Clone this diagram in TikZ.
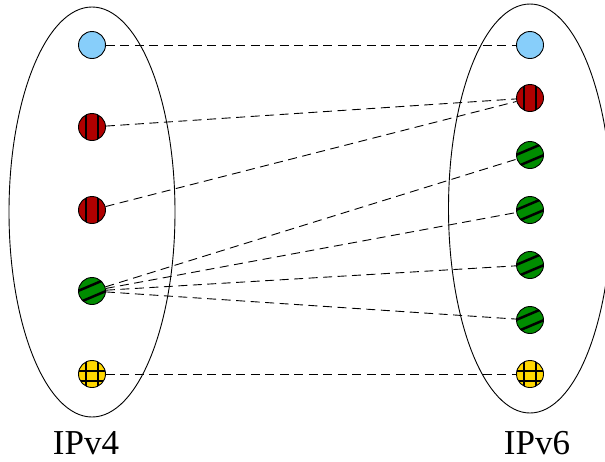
\documentclass[tikz,border=0pt]{standalone}
\usepackage{fontspec}
\setmainfont{Liberation Serif}
\definecolor{lblue}{RGB}{135,206,250}
\definecolor{dred}{RGB}{176,0,0}
\definecolor{dgreen}{RGB}{0,140,0}
\definecolor{gold}{RGB}{255,215,0}
\tikzset{
  dot/.style={circle, draw, line width=0.9pt, minimum size=27pt, inner sep=0pt},
  stripe/.style={line width=2.5pt},
  bluedot/.style={dot, fill=lblue},
  reddot/.style={dot, fill=dred, path picture={
    \draw[stripe] ([shift={(-6,-20)}]path picture bounding box.center) -- ([shift={(-6,20)}]path picture bounding box.center);
    \draw[stripe] ([shift={(6,-20)}]path picture bounding box.center) -- ([shift={(6,20)}]path picture bounding box.center);}},
  greendot/.style={dot, fill=dgreen, path picture={
    \draw[stripe] ([shift={(-20.55,2.74)}]path picture bounding box.center) -- ([shift={(16.25,-12.86)}]path picture bounding box.center);
    \draw[stripe] ([shift={(-16.25,12.86)}]path picture bounding box.center) -- ([shift={(20.55,-2.74)}]path picture bounding box.center);}},
  yellowdot/.style={dot, fill=gold, path picture={
    \draw[stripe] ([shift={(-6,-20)}]path picture bounding box.center) -- ([shift={(-6,20)}]path picture bounding box.center);
    \draw[stripe] ([shift={(6,-20)}]path picture bounding box.center) -- ([shift={(6,20)}]path picture bounding box.center);
    \draw[stripe] ([shift={(-20,-3)}]path picture bounding box.center) -- ([shift={(20,-3)}]path picture bounding box.center);
    \draw[stripe] ([shift={(-20,7)}]path picture bounding box.center) -- ([shift={(20,7)}]path picture bounding box.center);}},
  link/.style={draw, line width=0.9pt, dash pattern=on 9pt off 5.5pt},
  lbl/.style={anchor=base, inner sep=0pt, text depth=0pt, font=\fontsize{35}{40}\selectfont}
}
\begin{document}
\begin{tikzpicture}[x=1pt,y=-1pt]
\clip (0,0) rectangle (605,461);
% ellipses
\draw[line width=0.9pt] (92,212) ellipse [x radius=83, y radius=205];
\draw[line width=0.9pt] (530,208.5) ellipse [x radius=81.5, y radius=204.5];
% left
\node[bluedot] (l1) at (92,45) {};
\node[reddot] (l2) at (92,127) {};
\node[reddot] (l3) at (92,210) {};
\node[greendot] (l4) at (92,291) {};
\node[yellowdot] (l5) at (92,374) {};
% right
\node[bluedot] (r1) at (530,45) {};
\node[reddot] (r2) at (530,98) {};
\node[greendot] (r3) at (530,155) {};
\node[greendot] (r4) at (530,210) {};
\node[greendot] (r5) at (530,265) {};
\node[greendot] (r6) at (530,320) {};
\node[yellowdot] (r7) at (530,374) {};
% links
\path[link] (l1) -- (r1);
\path[link] (l2) -- (r2);
\path[link] (l3) -- (r2);
\path[link] (l4) -- (r3);
\path[link] (l4) -- (r4);
\path[link] (l4) -- (r5);
\path[link] (l4) -- (r6);
\path[link] (l5) -- (r7);
% labels
\node[lbl] (t4) at (86,454) {IPv4};
\node[lbl] (t6) at (537,454) {IPv6};
\end{tikzpicture}
\end{document}
